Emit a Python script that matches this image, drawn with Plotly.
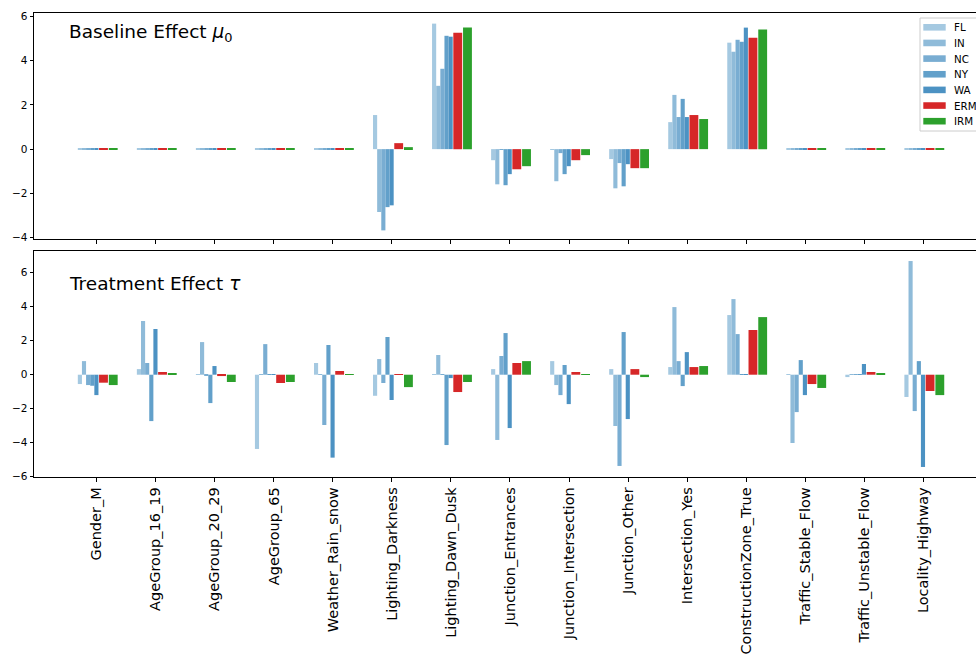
import plotly.graph_objects as go

# ---- data -------------------------------------------------------------
categories = [
    "Gender_M", "AgeGroup_16_19", "AgeGroup_20_29", "AgeGroup_65",
    "Weather_Rain_snow", "Lighting_Darkness", "Lighting_Dawn_Dusk",
    "Junction_Entrances", "Junction_Intersection", "Junction_Other",
    "Intersection_Yes", "ConstructionZone_True", "Traffic_Stable_Flow",
    "Traffic_Unstable_Flow", "Locality_Highway",
]
series_names = ["FL", "IN", "NC", "NY", "WA", "ERM", "IRM"]

# baseline effect mu_0 per feature
mu0_FL = [0.02, 0.02, 0.02, 0.02, 0.02, 1.54, 5.67, -0.50, -0.03, -0.45, 1.22, 4.81, 0.02, 0.02, 0.02]
mu0_IN = [0.02, 0.02, 0.02, 0.02, 0.02, -2.84, 2.86, -1.59, -1.45, -1.77, 2.45, 4.40, 0.02, 0.02, 0.02]
mu0_NC = [0.02, 0.02, 0.02, 0.02, 0.02, -3.67, 3.63, -0.03, -0.18, -0.63, 1.45, 4.94, 0.02, 0.02, 0.02]
mu0_NY = [0.02, 0.02, 0.02, 0.02, 0.02, -2.62, 5.12, -1.63, -1.13, -1.68, 2.27, 4.85, 0.02, 0.02, 0.02]
mu0_WA = [0.02, 0.02, 0.02, 0.02, 0.02, -2.54, 5.08, -1.13, -0.77, -0.68, 1.45, 5.49, 0.02, 0.02, 0.02]
mu0_ERM = [0.02, 0.02, 0.02, 0.02, 0.02, 0.27, 5.26, -0.91, -0.50, -0.86, 1.54, 5.03, 0.02, 0.02, 0.02]
mu0_IRM = [0.02, 0.02, 0.02, 0.02, 0.02, 0.09, 5.49, -0.77, -0.27, -0.86, 1.36, 5.40, 0.02, 0.02, 0.02]

# treatment effect tau per feature
tau_FL = [-0.55, 0.33, 0.04, -4.37, 0.69, -1.24, 0.04, 0.33, 0.80, 0.33, 0.45, 3.51, 0.04, -0.14, -1.31]
tau_IN = [0.80, 3.16, 1.92, 0.04, 0.04, 0.92, 1.16, -3.84, -0.61, -3.02, 3.98, 4.45, -4.02, 0.04, 6.69]
tau_NC = [-0.61, 0.69, -0.06, 1.80, -2.96, -0.49, 0.04, 1.10, -1.20, -5.37, 0.80, 2.39, -2.20, 0.04, -2.14]
tau_NY = [-0.65, -2.73, -1.67, 0.04, 1.75, 2.22, -4.14, 2.45, 0.57, 2.51, -0.67, 0.04, 0.86, 0.04, 0.80]
tau_WA = [-1.20, 2.69, 0.51, 0.04, -4.88, -1.49, -0.20, -3.14, -1.73, -2.61, 1.33, 0.04, -1.20, 0.63, -5.43]
tau_ERM = [-0.47, 0.16, -0.08, -0.49, 0.22, 0.04, -1.02, 0.69, 0.16, 0.33, 0.45, 2.63, -0.55, 0.16, -0.96]
tau_IRM = [-0.61, 0.10, -0.43, -0.43, 0.04, -0.73, -0.43, 0.80, 0.04, -0.14, 0.51, 3.39, -0.78, 0.10, -1.20]

mu0_values = [mu0_FL, mu0_IN, mu0_NC, mu0_NY, mu0_WA, mu0_ERM, mu0_IRM]
tau_values = [tau_FL, tau_IN, tau_NC, tau_NY, tau_WA, tau_ERM, tau_IRM]

# ---- styling ----------------------------------------------------------
colors = ["#a5c9e1", "#8fbbd9", "#79add2", "#62a0ca", "#4c92c3", "#d62728", "#2ca02c"]
offsets = [-0.32, -0.25, -0.18, -0.11, -0.04, 0.04, 0.205]
widths = [0.07, 0.07, 0.07, 0.07, 0.07, 0.15, 0.15]
FONT = "DejaVu Sans"

W, H = 976, 658
ML, MR, MT, MB = 34, 0, 13, 181
PW, PH = W - ML - MR, H - MT - MB


def px_x(x):
    return (x - ML) / PW


def px_y(y):
    return (H - MB - y) / PH


fig = go.Figure()
for values, xa, ya in ((mu0_values, "x", "y"), (tau_values, "x2", "y2")):
    for name, vals, col, off, w in zip(series_names, values, colors, offsets, widths):
        fig.add_trace(go.Bar(
            x=categories, y=vals, name=name, marker=dict(color=col, line=dict(width=0)),
            offset=off, width=w, xaxis=xa, yaxis=ya, showlegend=False,
        ))

xrange = [-1.062, 14.893]
axis_common = dict(
    showline=True, linecolor="black", linewidth=1, ticks="outside", ticklen=3.5,
    tickwidth=1, tickcolor="black", showgrid=False, zeroline=False,
)
fig.update_layout(
    width=W, height=H,
    margin=dict(l=ML, r=MR, t=MT, b=MB, autoexpand=False),
    paper_bgcolor="white", plot_bgcolor="white",
    barmode="overlay",
    font=dict(family=FONT, color="black", size=10.5),
    xaxis=dict(axis_common, type="category", anchor="y", domain=[0, 1], range=xrange,
               mirror=True, showticklabels=False, tickmode="array", tickvals=categories),
    yaxis=dict(axis_common, anchor="x", domain=[px_y(239), 1], range=[-4.06, 6.15],
               tickmode="linear", tick0=0, dtick=2, tickfont=dict(size=10.5)),
    xaxis2=dict(axis_common, type="category", anchor="y2", domain=[0, 1], range=xrange,
                mirror=True, tickangle=-90, tickmode="array", tickvals=categories,
                ticktext=categories, tickfont=dict(size=14.5)),
    yaxis2=dict(axis_common, anchor="x2", domain=[0, px_y(251)], range=[-6.02, 7.28],
                tickmode="linear", tick0=0, dtick=2, tickfont=dict(size=10.5)),
)

annotations = [
    dict(text="Baseline Effect <i>μ</i><sub>0</sub>", x=px_x(67), y=px_y(33),
         xref="paper", yref="paper", xanchor="left", yanchor="middle",
         showarrow=False, font=dict(size=18.5)),
    dict(text="Treatment Effect <i>τ</i>", x=px_x(67), y=px_y(283),
         xref="paper", yref="paper", xanchor="left", yanchor="middle",
         showarrow=False, font=dict(size=18.5)),
]

# legend box in the upper right of the top panel
shapes = [dict(type="rect", xref="paper", yref="paper",
               x0=px_x(920), x1=px_x(995), y0=px_y(131), y1=px_y(18),
               line=dict(color="#cccccc", width=1), fillcolor="rgba(255,255,255,0.8)")]
for k, (name, col) in enumerate(zip(series_names, colors)):
    yc = 27.3 + 15.65 * k
    shapes.append(dict(type="rect", xref="paper", yref="paper",
                       x0=px_x(923.3), x1=px_x(945.7), y0=px_y(yc + 3.3), y1=px_y(yc - 3.3),
                       line=dict(width=0), fillcolor=col))
    annotations.append(dict(text=name, x=px_x(951.5), y=px_y(yc), xref="paper", yref="paper",
                            xanchor="left", yanchor="middle", showarrow=False,
                            font=dict(size=10.3)))

fig.update_layout(annotations=annotations, shapes=shapes)
fig.write_html("out.html")
